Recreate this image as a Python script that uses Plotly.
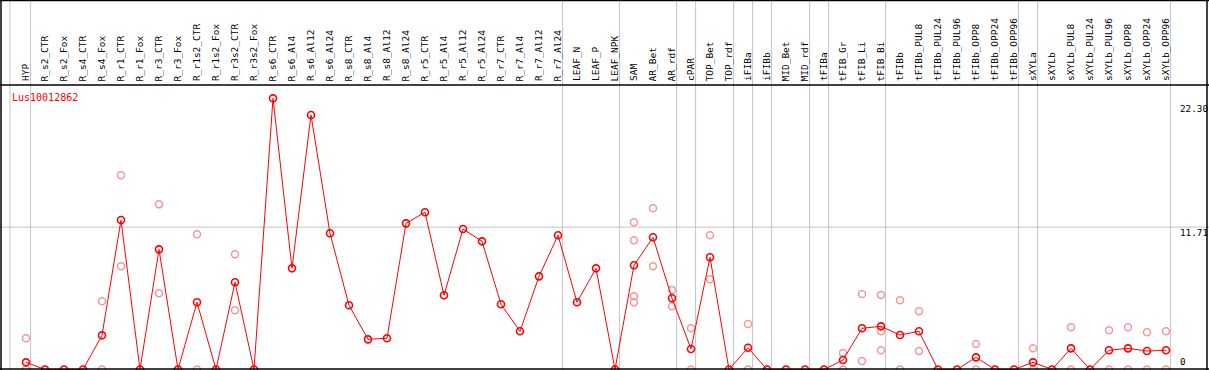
import plotly.graph_objects as go

categories = ["HYP", "R_s2_CTR", "R_s2_Fox", "R_s4_CTR", "R_s4_Fox", "R_r1_CTR", "R_r1_Fox",
              "R_r3_CTR", "R_r3_Fox", "R_r1s2_CTR", "R_r1s2_Fox", "R_r3s2_CTR", "R_r3s2_Fox",
              "R_s6_CTR", "R_s6_Al4", "R_s6_Al12", "R_s6_Al24", "R_s8_CTR", "R_s8_Al4",
              "R_s8_Al12", "R_s8_Al24", "R_r5_CTR", "R_r5_Al4", "R_r5_Al12", "R_r5_Al24",
              "R_r7_CTR", "R_r7_Al4", "R_r7_Al12", "R_r7_Al24", "LEAF_N", "LEAF_P", "LEAF_NPK",
              "SAM", "AR_Bet", "AR_rdf", "cPAR", "TOP_Bet", "TOP_rdf", "iFIBa", "iFIBb",
              "MID_Bet", "MID_rdf", "tFIBa", "tFIB_Gr", "tFIB_Li", "tFIB_Bi", "tFIBb",
              "tFIBb_PUL8", "tFIBb_PUL24", "tFIBb_PUL96", "tFIBb_OPP8", "tFIBb_OPP24",
              "tFIBb_OPP96", "sXYLa", "sXYLb", "sXYLb_PUL8", "sXYLb_PUL24", "sXYLb_PUL96",
              "sXYLb_OPP8", "sXYLb_OPP24", "sXYLb_OPP96"]

mean_values = [0.59, 0, 0, 0, 2.81, 12.29, 0, 9.88, 0, 5.53, 0, 7.17, 0,
               22.30, 8.32, 20.93, 11.20, 5.28, 2.48, 2.57, 12.02, 12.93, 6.10, 11.55, 10.54,
               5.36, 3.14, 7.66, 11.04, 5.53, 8.32, 0,
               8.57, 10.87, 5.86, 1.69, 9.23, 0, 1.79, 0, 0, 0, 0, 0.78, 3.39, 3.55, 2.84,
               3.14, 0, 0, 1.00, 0, 0, 0.59, 0, 1.74, 0, 1.58, 1.74, 1.52, 1.58]

# replicate points: (category index, value)
rep_index = [0, 0, 4, 4, 5, 5, 7, 7, 9, 9, 11, 11,
             32, 32, 32, 32, 33, 33, 34, 34, 35, 35, 36, 36, 38, 38,
             43, 43, 44, 44, 45, 45, 45, 46, 46, 47, 47, 50, 50,
             53, 53, 55, 55, 57, 57, 58, 58, 59, 59, 60, 60]
rep_values = [2.57, 0, 5.61, 0, 15.97, 8.49, 13.58, 6.27, 11.12, 0, 9.47, 4.87,
              12.10, 10.62, 6.02, 5.53, 13.26, 8.49, 6.54, 5.20, 3.39, 0, 11.04, 7.42, 3.74, 0,
              1.36, 0, 6.21, 0.70, 6.13, 3.14, 1.58, 5.69, 0, 4.79, 1.52, 2.10, 0,
              1.74, 0, 3.47, 0, 3.22, 0, 3.47, 0, 3.06, 0, 3.14, 0]

# group separators (after these category indices)
separators_after = [-1, 0, 28, 31, 34, 35, 37, 38, 39, 41, 42, 45, 52, 53, 60]

gene_name = "Lus10012862"
axis_labels = ["22.30", "11.71", "0"]
axis_values = [22.30, 11.71, 0]

W, H = 1209, 370
X0, DX = 26.0, 19.0          # pixel of category 0, pixel step
Y0, DY = 369.5, 12.16        # pixel of value 0, pixels per unit

def px_to_x(px):
    return (px - X0) / DX

def py_to_y(py):
    return (Y0 - py) / DY

def py_to_paper(py):
    return 1 - py / H

xs = list(range(len(categories)))

fig = go.Figure()

fig.add_trace(go.Scatter(
    x=rep_index, y=rep_values, mode="markers",
    marker=dict(symbol="circle-open", size=7, color="#ee9a9a", line=dict(width=1.5)),
    hoverinfo="skip", showlegend=False, cliponaxis=False))

fig.add_trace(go.Scatter(
    x=xs, y=mean_values, mode="lines+markers",
    line=dict(color="#ff0000", width=1),
    marker=dict(symbol="circle-open", size=7, color="#ff0000", line=dict(width=1.6)),
    showlegend=False, cliponaxis=False))

shapes = []
# gray separators
for s in separators_after:
    xv = s + 4.6 / DX if s >= 0 else px_to_x(10)
    shapes.append(dict(type="line", xref="x", yref="paper", x0=xv, x1=xv, y0=0, y1=1,
                       line=dict(color="#c4c4c4", width=1), layer="below"))
# horizontal gray line at middle value
shapes.append(dict(type="line", xref="paper", yref="y", x0=0, x1=1, y0=axis_values[1],
                   y1=axis_values[1], line=dict(color="#c4c4c4", width=1), layer="below"))
# black borders
for py in [0.5, 85, 369]:
    shapes.append(dict(type="line", xref="paper", yref="paper", x0=0, x1=1,
                       y0=py_to_paper(py), y1=py_to_paper(py),
                       line=dict(color="black", width=1.5)))
for pxx in [1, 1207]:
    shapes.append(dict(type="line", xref="paper", yref="paper", x0=pxx / W, x1=pxx / W,
                       y0=0, y1=1, line=dict(color="black", width=1.5)))

annotations = []
for i, c in enumerate(categories):
    annotations.append(dict(x=i - 1.0 / DX, y=py_to_paper(83.5), xref="x", yref="paper",
                            text=c, textangle=-90, showarrow=False,
                            xanchor="center", yanchor="bottom",
                            font=dict(family="DejaVu Sans Mono", size=9.5, color="black")))

annotations.append(dict(x=10 / W, y=py_to_paper(97.5), xref="paper", yref="paper",
                        text=gene_name, showarrow=False, xanchor="left", yanchor="middle",
                        font=dict(family="DejaVu Sans Mono", size=10, color="#ff0000")))

label_py = [108, 232.5, 361.5]
for lab, py in zip(axis_labels, label_py):
    annotations.append(dict(x=1177.5 / W, y=py_to_paper(py), xref="paper", yref="paper",
                            text=lab, showarrow=False, xanchor="left", yanchor="middle",
                            font=dict(family="DejaVu Sans Mono", size=9.3, color="black")))

fig.update_layout(
    width=W, height=H, margin=dict(l=0, r=0, t=0, b=0, pad=0),
    paper_bgcolor="white", plot_bgcolor="white",
    xaxis=dict(visible=False, range=[px_to_x(0), px_to_x(W)], fixedrange=True),
    yaxis=dict(visible=False, range=[py_to_y(H), py_to_y(0)], fixedrange=True),
    shapes=shapes, annotations=annotations, showlegend=False,
)

fig.write_html("out.html", config={"displayModeBar": False},
               post_script="document.body.style.margin='0';document.body.style.overflow='hidden';")
